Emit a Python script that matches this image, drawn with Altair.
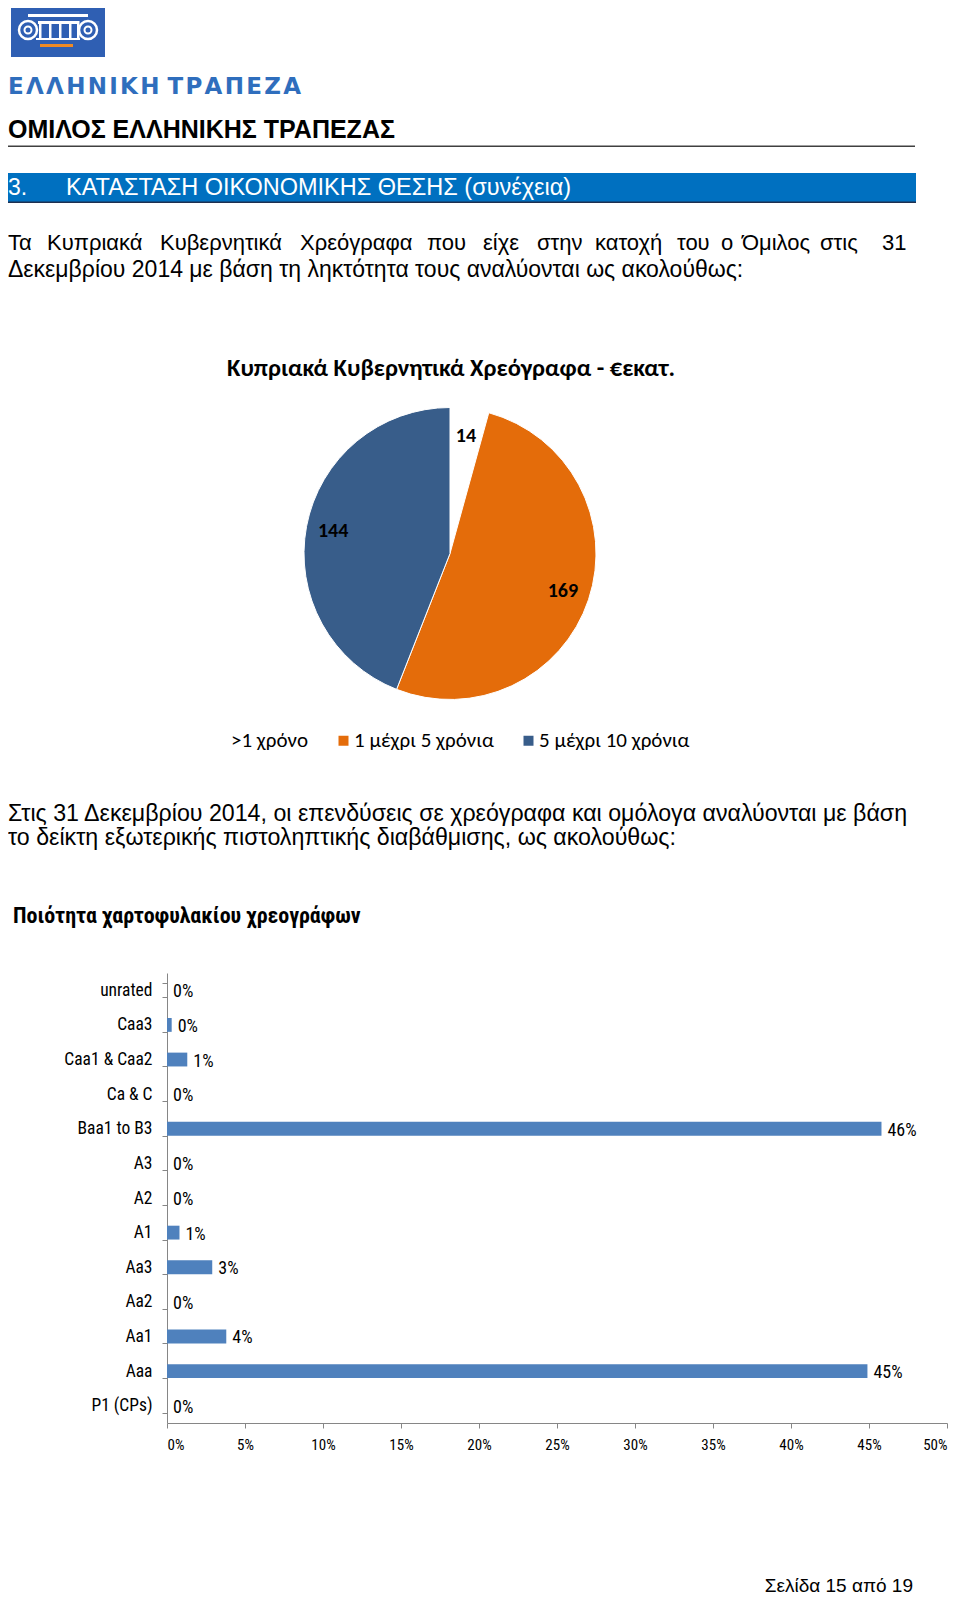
import altair as alt
import pandas as pd

# ---------------- data ----------------
pie_cats = [">1 χρόνο", "1 μέχρι 5 χρόνια", "5 μέχρι 10 χρόνια"]
pie_vals = [14, 169, 144]
pie_colors = ["#FFFFFF", "#E46C0A", "#385D8A"]

bar_cats = ["unrated", "Caa3", "Caa1 & Caa2", "Ca & C", "Baa1 to B3", "A3", "A2",
            "A1", "Aa3", "Aa2", "Aa1", "Aaa", "P1 (CPs)"]
bar_pcts = [0.0, 0.3, 1.3, 0.0, 45.8, 0.0, 0.0, 0.8, 2.9, 0.0, 3.8, 44.9, 0.0]
x_tick_pcts = [0, 5, 10, 15, 20, 25, 30, 35, 40, 45, 50]

pie_df = pd.DataFrame({"cat": pie_cats, "val": pie_vals, "idx": list(range(len(pie_cats)))})
bar_df = pd.DataFrame({"cat": bar_cats, "pct": [v / 100 for v in bar_pcts]})
x_ticks = [v / 100 for v in x_tick_pcts]

# ---------------- fonts ----------------
ARIAL = "Liberation Sans, Arial, sans-serif"
CALIBRI = "Carlito, Lato, Noto Sans, sans-serif"
NARROW = "Roboto Condensed, Liberation Sans Narrow, Arial Narrow, DejaVu Sans Condensed, sans-serif"

W, H = 944, 1588
one = pd.DataFrame({"k": [0]})


def txt(s, x, y, size, font=ARIAL, weight="normal", color="#000000", align="left"):
    return alt.Chart(one).mark_text(
        text=s, font=font, fontSize=size, fontWeight=weight, color=color,
        align=align, baseline="alphabetic"
    ).encode(x=alt.value(x), y=alt.value(y))


def rect(x1, x2, y1, y2, color):
    return alt.Chart(one).mark_rect(color=color).encode(
        x=alt.value(x1), x2=alt.value(x2), y=alt.value(y1), y2=alt.value(y2))


def ring(x, y, d, color="#FFFFFF", w=2.5):
    return alt.Chart(one).mark_point(shape="circle", filled=False, color=color,
                                     strokeWidth=w, size=d * d, opacity=1).encode(
        x=alt.value(x), y=alt.value(y))


layers = []

# ---------------- logo ----------------
LOGO_BLUE = "#2F5FB3"
layers.append(rect(3, 97, 0, 49, LOGO_BLUE))
layers.append(rect(20, 80, 6, 9, "#FFFFFF"))
layers.append(ring(20, 22, 18))
layers.append(ring(20, 22, 7, w=2))
layers.append(ring(80, 22, 18))
layers.append(ring(80, 22, 7, w=2))
layers.append(rect(30, 70, 13, 16, "#FFFFFF"))
for cx in [31, 41, 51, 61, 69]:
    layers.append(rect(cx, cx + 2.5, 13, 30, "#FFFFFF"))
layers.append(rect(28, 72, 30, 32, "#FFFFFF"))
layers.append(rect(32, 65, 36, 39, "#F08A24"))
layers.append(txt("Ε\u200aΛ\u200aΛ\u200aΗ\u200aΝ\u200aΙ\u200aΚ\u200aΗ  Τ\u200aΡ\u200aΑ\u200aΠ\u200aΕ\u200aΖ\u200aΑ",
                  0, 86, 23, font="DejaVu Sans, sans-serif", weight="bold", color="#2F6EBD"))

# ---------------- header ----------------
layers.append(txt("ΟΜΙΛΟΣ ΕΛΛΗΝΙΚΗΣ ΤΡΑΠΕΖΑΣ", 0, 130, 25, weight="bold"))
layers.append(rect(0, 907, 137.5, 139, "#404040"))
layers.append(rect(0, 908, 165, 194, "#0070C0"))
layers.append(rect(0, 908, 193.5, 195, "#1F3050"))
layers.append(txt("3.", 0, 187, 23, color="#FFFFFF"))
layers.append(txt("ΚΑΤΑΣΤΑΣΗ ΟΙΚΟΝΟΜΙΚΗΣ ΘΕΣΗΣ (συνέχεια)", 58, 187, 23.5, color="#FFFFFF"))

# paragraph 1 (first line justified)
para1_line1 = [("Τα", 0), ("Κυπριακά", 39), ("Κυβερνητικά", 152), ("Χρεόγραφα", 292),
               ("που", 419), ("είχε", 475), ("στην", 529), ("κατοχή", 587), ("του", 669),
               ("ο", 713), ("Όμιλος", 734), ("στις", 812), ("31", 874)]
for w, xw in para1_line1:
    layers.append(txt(w, xw, 242, 22))
layers.append(txt("Δεκεμβρίου 2014 με βάση τη ληκτότητα τους αναλύονται ως ακολούθως:", 0, 269, 23))

# ---------------- pie ----------------
CX, CY, R = 442, 545.5, 146
layers.append(txt("Κυπριακά Κυβερνητικά Χρεόγραφα - €εκατ.", 443, 368, 24.5,
                  font=CALIBRI, weight="bold", align="center"))

pie_base = alt.Chart(pie_df).encode(
    theta=alt.Theta("val:Q", stack=True),
    order=alt.Order("idx:Q"),
)
pie = pie_base.mark_arc(outerRadius=R, stroke="#FFFFFF", strokeWidth=1).encode(
    x=alt.value(CX), y=alt.value(CY),
    color=alt.Color("cat:N", sort=pie_cats,
                    scale=alt.Scale(domain=pie_cats, range=pie_colors),
                    legend=alt.Legend(orient="none", legendX=202, legendY=722,
                                      direction="horizontal", title=None,
                                      symbolType="square", symbolSize=100,
                                      symbolStrokeWidth=0, labelFont=CALIBRI,
                                      labelFontSize=21, labelColor="#000000",
                                      columnPadding=24, labelOffset=0, padding=0)),
)
pie_labels = pie_base.mark_text(radius=119, font=CALIBRI, fontSize=20,
                                fontWeight="bold", color="#000000").encode(
    x=alt.value(CX), y=alt.value(CY), text=alt.Text("val:Q"))
layers += [pie, pie_labels]

# paragraph 2
layers.append(txt("Στις 31 Δεκεμβρίου 2014, οι επενδύσεις σε χρεόγραφα και ομόλογα αναλύονται με βάση", 0, 813, 23.2))
layers.append(txt("το δείκτη εξωτερικής πιστοληπτικής διαβάθμισης, ως ακολούθως:", 0, 837, 23.2))

# ---------------- bar chart ----------------
layers.append(txt("Ποιότητα χαρτοφυλακίου  χρεογράφων", 5, 915, 22, font=NARROW, weight="bold"))

X0, X1 = 159, 939
Y0, Y1 = 965, 1415
xenc = alt.X("pct:Q", scale=alt.Scale(domain=[0, 0.5], range=[X0, X1], nice=False, zero=True),
             axis=alt.Axis(title=None, orient="bottom", offset=-(H - Y1), values=x_ticks,
                           format=".0%", domainColor="#868686", tickColor="#868686",
                           tickSize=5, labelFont=NARROW, labelFontSize=15,
                           labelColor="#000000", labelPadding=9, grid=False))
yenc = alt.Y("cat:N", sort=bar_cats,
             scale=alt.Scale(domain=bar_cats, range=[Y0, Y1], paddingInner=0.6, paddingOuter=0.3),
             axis=alt.Axis(title=None, orient="left", offset=-X0, domainColor="#868686",
                           tickColor="#868686", tickSize=5, tickBand="extent",
                           labelFont=NARROW, labelFontSize=17.5, labelColor="#000000",
                           labelPadding=10, grid=False))
bars = alt.Chart(bar_df).mark_bar(color="#4F81BD").encode(x=xenc, y=yenc)
bar_labels = alt.Chart(bar_df).mark_text(align="left", baseline="middle", dx=6, dy=2,
                                         font=NARROW, fontSize=18, color="#000000").encode(
    x=xenc, y=yenc, text=alt.Text("pct:Q", format=".0%"))
layers += [bars, bar_labels]

# footer
layers.append(txt("Σελίδα 15 από 19", 905, 1584, 19, align="right"))

chart = alt.layer(*layers).properties(
    width=W, height=H, padding=0,
    autosize=alt.AutoSizeParams(type="none"),
).configure_view(stroke=None)

chart.save("out.html", embed_options={"renderer": "svg", "actions": False})
